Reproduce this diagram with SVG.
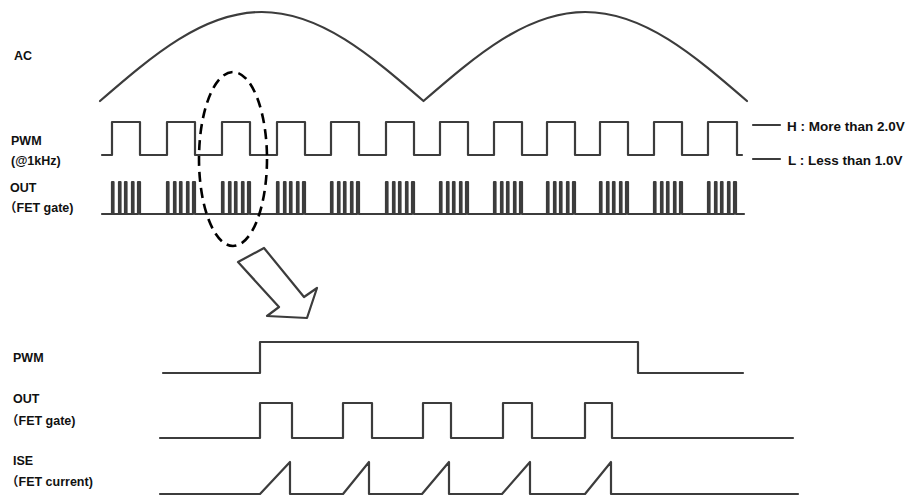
<svg xmlns="http://www.w3.org/2000/svg" width="920" height="497" viewBox="0 0 920 497">
<style>
.w{fill:none;stroke:#3c3c3c;stroke-width:2.2;stroke-linejoin:round;stroke-linecap:round}
.t{font-family:"Liberation Sans","Noto Sans CJK SC",sans-serif;font-weight:bold;font-size:12.5px;fill:#111}
.r{font-family:"Liberation Sans",sans-serif;font-weight:bold;font-size:13.5px;fill:#111}
</style>
<rect width="920" height="497" fill="#fff"/>
<g id="ac">
<text class="t" x="14" y="60">AC</text>
<path class="w" d="M100,101 C152.75,55.4 203.2,12 261.75,12 C320.3,12 370.75,55.4 423.5,101 C476.25,55.4 526.7,12 585.25,12 C643.8,12 694.25,55.4 747,101"/>
</g>
<g id="pwm-top">
<text class="t" x="11" y="145">PWM</text>
<text class="t" x="11" y="165">(@1kHz)</text>
<path class="w" d="M102,155 H112 V122 H140 V155 H167 V122 H195 V155 H222 V122 H250 V155 H277 V122 H305 V155 H331 V122 H359 V155 H386 V122 H414 V155 H440 V122 H468 V155 H494 V122 H522 V155 H547 V122 H575 V155 H600 V122 H628 V155 H654 V122 H682 V155 H708 V122 H737 V155 H742"/>
</g>
<g id="levels">
<path class="w" d="M753,125 H780 M753,159 H780"/>
<text class="r" x="787" y="131">H : More than 2.0V</text>
<text class="r" x="788" y="165">L : Less than 1.0V</text>
</g>
<g id="out-top">
<text class="t" x="10" y="192">OUT</text>
<text class="t" x="4" y="212">（FET gate)</text>
<path class="w" stroke-width="1.9" d="M102,214 H112 V182 H113.5 V214 H119 V182 H120.5 V214 H125 V182 H126.5 V214 H132 V182 H133.5 V214 H138 V182 H140 V214 H167 V182 H168.5 V214 H174 V182 H175.5 V214 H180 V182 H181.5 V214 H187 V182 H188.5 V214 H193 V182 H195 V214 H222 V182 H223.5 V214 H229 V182 H230.5 V214 H235 V182 H236.5 V214 H242 V182 H243.5 V214 H248 V182 H250 V214 H277 V182 H278.5 V214 H284 V182 H285.5 V214 H290 V182 H291.5 V214 H297 V182 H298.5 V214 H303 V182 H305 V214 H331 V182 H332.5 V214 H338 V182 H339.5 V214 H344 V182 H345.5 V214 H351 V182 H352.5 V214 H357 V182 H359 V214 H386 V182 H387.5 V214 H393 V182 H394.5 V214 H399 V182 H400.5 V214 H406 V182 H407.5 V214 H412 V182 H414 V214 H440 V182 H441.5 V214 H447 V182 H448.5 V214 H453 V182 H454.5 V214 H460 V182 H461.5 V214 H466 V182 H468 V214 H494 V182 H495.5 V214 H501 V182 H502.5 V214 H507 V182 H508.5 V214 H514 V182 H515.5 V214 H520 V182 H522 V214 H547 V182 H548.5 V214 H554 V182 H555.5 V214 H560 V182 H561.5 V214 H567 V182 H568.5 V214 H573 V182 H575 V214 H600 V182 H601.5 V214 H607 V182 H608.5 V214 H613 V182 H614.5 V214 H620 V182 H621.5 V214 H626 V182 H628 V214 H654 V182 H655.5 V214 H661 V182 H662.5 V214 H667 V182 H668.5 V214 H674 V182 H675.5 V214 H680 V182 H682 V214 H708 V182 H709.5 V214 H715 V182 H716.5 V214 H721 V182 H722.5 V214 H728 V182 H729.5 V214 H734 V182 H736 V214 H744"/>
</g>
<g id="zoom-marker">
<ellipse cx="233" cy="159" rx="34" ry="87" fill="none" stroke="#000" stroke-width="2.6" stroke-dasharray="10,6"/>
</g>
<g id="connectors">
<polygon points="238,262 264,248 304,297 317,288 307,318 267,316 279,307" fill="#fff" stroke="#3c3c3c" stroke-width="2.2" stroke-linejoin="round"/>
</g>
<g id="pwm-bottom">
<text class="t" x="13" y="362">PWM</text>
<path class="w" d="M163,373 H260 V342 H638 V373 H743"/>
</g>
<g id="out-bottom">
<text class="t" x="13" y="403">OUT</text>
<text class="t" x="6" y="425">（FET gate)</text>
<path class="w" d="M160,438 H260 V403 H292 V438 H343 V403 H372 V438 H423 V403 H451 V438 H503 V403 H532 V438 H585 V403 H612 V438 H793"/>
</g>
<g id="ise">
<text class="t" x="13" y="465">ISE</text>
<text class="t" x="6" y="486">（FET current)</text>
<path class="w" d="M160,494 H260 L290,462 V494 H343 L369,462 V494 H422 L449,462 V494 H502 L530,462 V494 H585 L611,462 V494 H798"/>
</g>
</svg>
